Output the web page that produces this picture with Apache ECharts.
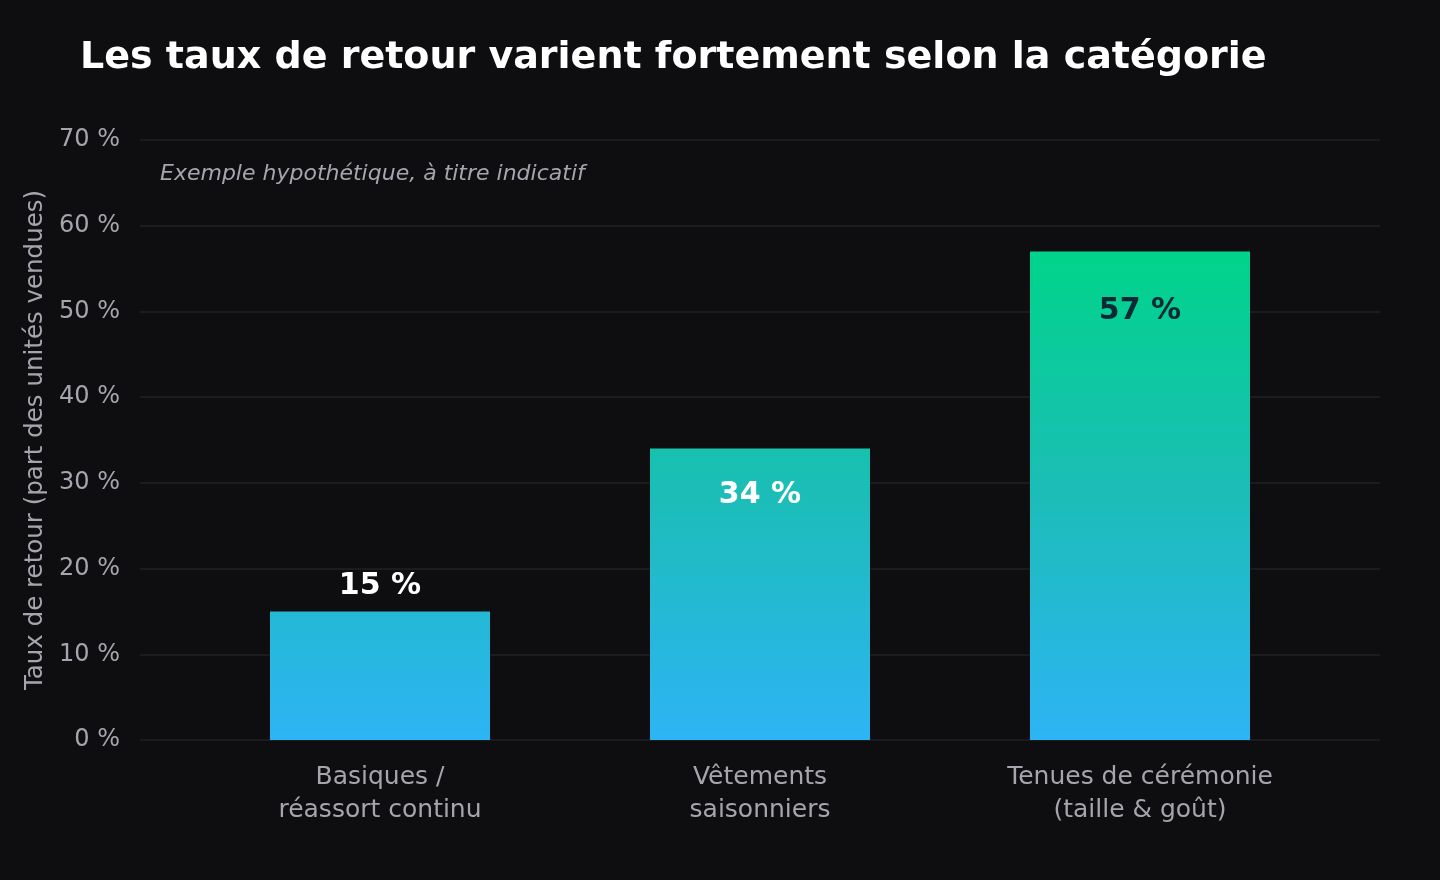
<!DOCTYPE html>
<html>
<head>
<meta charset="utf-8">
<style>
  html, body { margin: 0; padding: 0; background: #0e0d10; }
  #main { width: 1440px; height: 880px; }
</style>
<script src="https://cdn.jsdelivr.net/npm/echarts@6/dist/echarts.min.js"></script>
</head>
<body>
<div id="main"></div>
<script>
// données
var categories = ['Basiques /\nréassort continu', 'Vêtements\nsaisonniers', 'Tenues de cérémonie\n(taille & goût)'];
var tauxRetour = [15, 34, 57];
var yTicks = [0, 10, 20, 30, 40, 50, 60, 70];

var font = 'DejaVu Sans';
var gris = '#a6a5ad';

var chart = echarts.init(document.getElementById('main'));

// dégradé global (en pixels) du bas de l'axe jusqu'en haut de la plus grande barre
var degrade = {
    type: 'linear', global: true,
    x: 0, y: 740, x2: 0, y2: 252,
    colorStops: [
        { offset: 0, color: '#2db4f5' },
        { offset: 0.5, color: '#1cbdb8' },
        { offset: 1, color: '#00d48a' }
    ]
};

// réglage des étiquettes de chaque barre
var etiquettes = [
    { position: 'top', distance: 10, color: '#ffffff' },
    { position: 'insideTop', distance: 32, color: '#ffffff' },
    { position: 'insideTop', distance: 45, color: '#0c2a33' }
];

var barData = tauxRetour.map(function (v, i) {
    return {
        value: v,
        label: etiquettes[i]
    };
});

var option = {
    backgroundColor: '#0e0d10',
    animation: false,
    title: {
        text: 'Les taux de retour varient fortement selon la catégorie',
        left: 80,
        top: 39,
        padding: 0,
        textStyle: { color: '#ffffff', fontFamily: font, fontWeight: 'bold', fontSize: 38 }
    },
    graphic: [{
        type: 'text',
        left: 160,
        top: 163,
        style: {
            text: 'Exemple hypothétique, à titre indicatif',
            fill: gris,
            font: 'italic 22px "DejaVu Sans"'
        }
    }],
    grid: [
        { left: 140, right: 60, top: 140, bottom: 140 },
        { left: 190, right: 110, top: 140, bottom: 140 }
    ],
    xAxis: [
        { gridIndex: 0, type: 'value', min: 0, max: 1, show: false },
        {
            gridIndex: 1,
            type: 'category',
            data: categories,
            axisLine: { show: false },
            axisTick: { show: false },
            axisLabel: {
                color: gris, fontFamily: font, fontSize: 25,
                lineHeight: 33, margin: 21
            }
        }
    ],
    yAxis: [
        {
            gridIndex: 0,
            type: 'value',
            min: yTicks[0],
            max: yTicks[yTicks.length - 1],
            interval: 10,
            name: 'Taux de retour (part des unités vendues)',
            nameLocation: 'middle',
            nameGap: 92,
            nameTextStyle: { color: gris, fontFamily: font, fontSize: 24.5 },
            axisLine: { show: false },
            axisTick: { show: false },
            axisLabel: {
                color: gris, fontFamily: font, fontSize: 24, margin: 20,
                padding: [4, 0, 0, 0],
                formatter: '{value} %'
            },
            splitLine: { lineStyle: { color: '#222025', width: 1.5 } }
        },
        {
            gridIndex: 1,
            type: 'value',
            min: yTicks[0],
            max: yTicks[yTicks.length - 1],
            show: false,
            splitLine: { show: false }
        }
    ],
    series: [{
        type: 'bar',
        xAxisIndex: 1,
        yAxisIndex: 1,
        barWidth: 220,
        data: barData,
        itemStyle: { color: degrade },
        label: {
            show: true,
            fontFamily: font,
            fontWeight: 'bold',
            fontSize: 30,
            formatter: '{c} %'
        }
    }]
};

chart.setOption(option);
</script>
</body>
</html>
